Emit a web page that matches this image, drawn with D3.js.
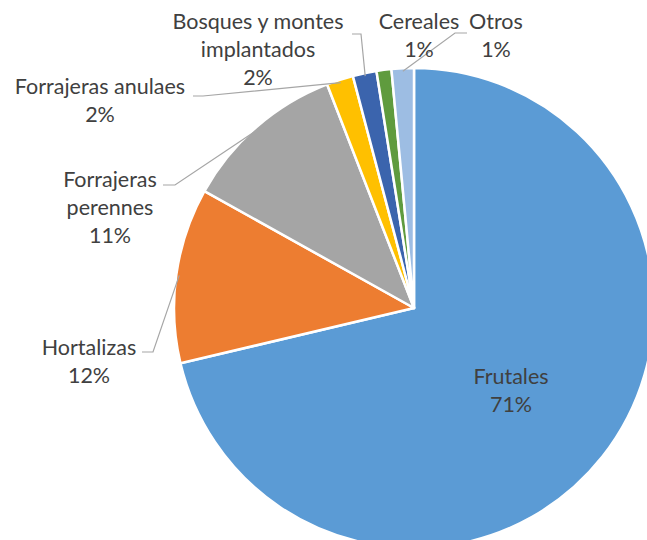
<!DOCTYPE html>
<html>
<head>
<meta charset="utf-8">
<script src="https://cdn.jsdelivr.net/npm/d3@7"></script>
<style>
  body { margin: 0; background: #fff; }
  svg { display: block; }
  text { font-family: Lato, "Open Sans", sans-serif; fill: #404040; }
</style>
</head>
<body>
<svg id="svg0" width="647" height="540"></svg>
<script>
// datos
var categories = ["Frutales", "Hortalizas", "Forrajeras perennes", "Forrajeras anulaes",
                  "Bosques y montes implantados", "Cereales", "Otros"];
var values = [71.3, 11.8, 11.0, 1.8, 1.6, 1.0, 1.5];
var percentLabels = ["71%", "12%", "11%", "2%", "2%", "1%", "1%"];
var colors = ["#5B9BD5", "#ED7D31", "#A5A5A5", "#FFC000", "#3B64AD", "#5F9B3E", "#9DBDE3"];

// label layout: text lines, center x, first baseline, leader from/elbow
var labelLines = [
    ["Frutales", "71%"],
    ["Hortalizas", "12%"],
    ["Forrajeras", "perennes", "11%"],
    ["Forrajeras anulaes", "2%"],
    ["Bosques y montes", "implantados", "2%"],
    ["Cereales", "1%"],
    ["Otros", "1%"]
];
var labelX = [511, 89, 110, 100, 258, 419, 496];
var labelY = [384, 355, 187, 94, 29, 29, 29];
var leaders = [
    null,
    [[142, 352], [153, 352]],
    [[163, 185], [175, 185]],
    [[193, 96], [203, 96]],
    [[352, 34], [361, 34]],
    null,
    [[467, 33], [455, 33]]
];

var width = 647, height = 540;
var cx = 414, cy = 308, radius = 240;
var lineHeight = 28;

var svg = d3.select('#svg0');

var pie = d3.pie().sort(null).value(function (d) { return d; });
var arcs = pie(values);

var arc = d3.arc().innerRadius(0).outerRadius(radius);

var g = svg.append('g')
    .attr('transform', 'translate(' + cx + ',' + cy + ')');

g.selectAll('path')
    .data(arcs)
    .enter()
    .append('path')
    .attr('d', arc)
    .attr('fill', function (d, i) { return colors[i]; })
    .attr('stroke', '#fff')
    .attr('stroke-width', 2.5)
    .attr('stroke-linejoin', 'round');

// leader lines
arcs.forEach(function (d, i) {
    if (!leaders[i]) return;
    var mid = (d.startAngle + d.endAngle) / 2;
    var r = radius - 3;
    var px = cx + Math.sin(mid) * r;
    var py = cy - Math.cos(mid) * r;
    var pts = leaders[i].concat([[px, py]]);
    svg.append('path')
        .attr('d', d3.line()(pts))
        .attr('fill', 'none')
        .attr('stroke', '#A6A6A6')
        .attr('stroke-width', 1.2);
});

// labels
labelLines.forEach(function (lines, i) {
    var t = svg.append('text')
        .attr('text-anchor', 'middle')
        .attr('font-size', 21.5);
    lines.forEach(function (s, j) {
        t.append('tspan')
            .attr('x', labelX[i])
            .attr('y', labelY[i] + j * lineHeight)
            .text(s);
    });
});
</script>
</body>
</html>
